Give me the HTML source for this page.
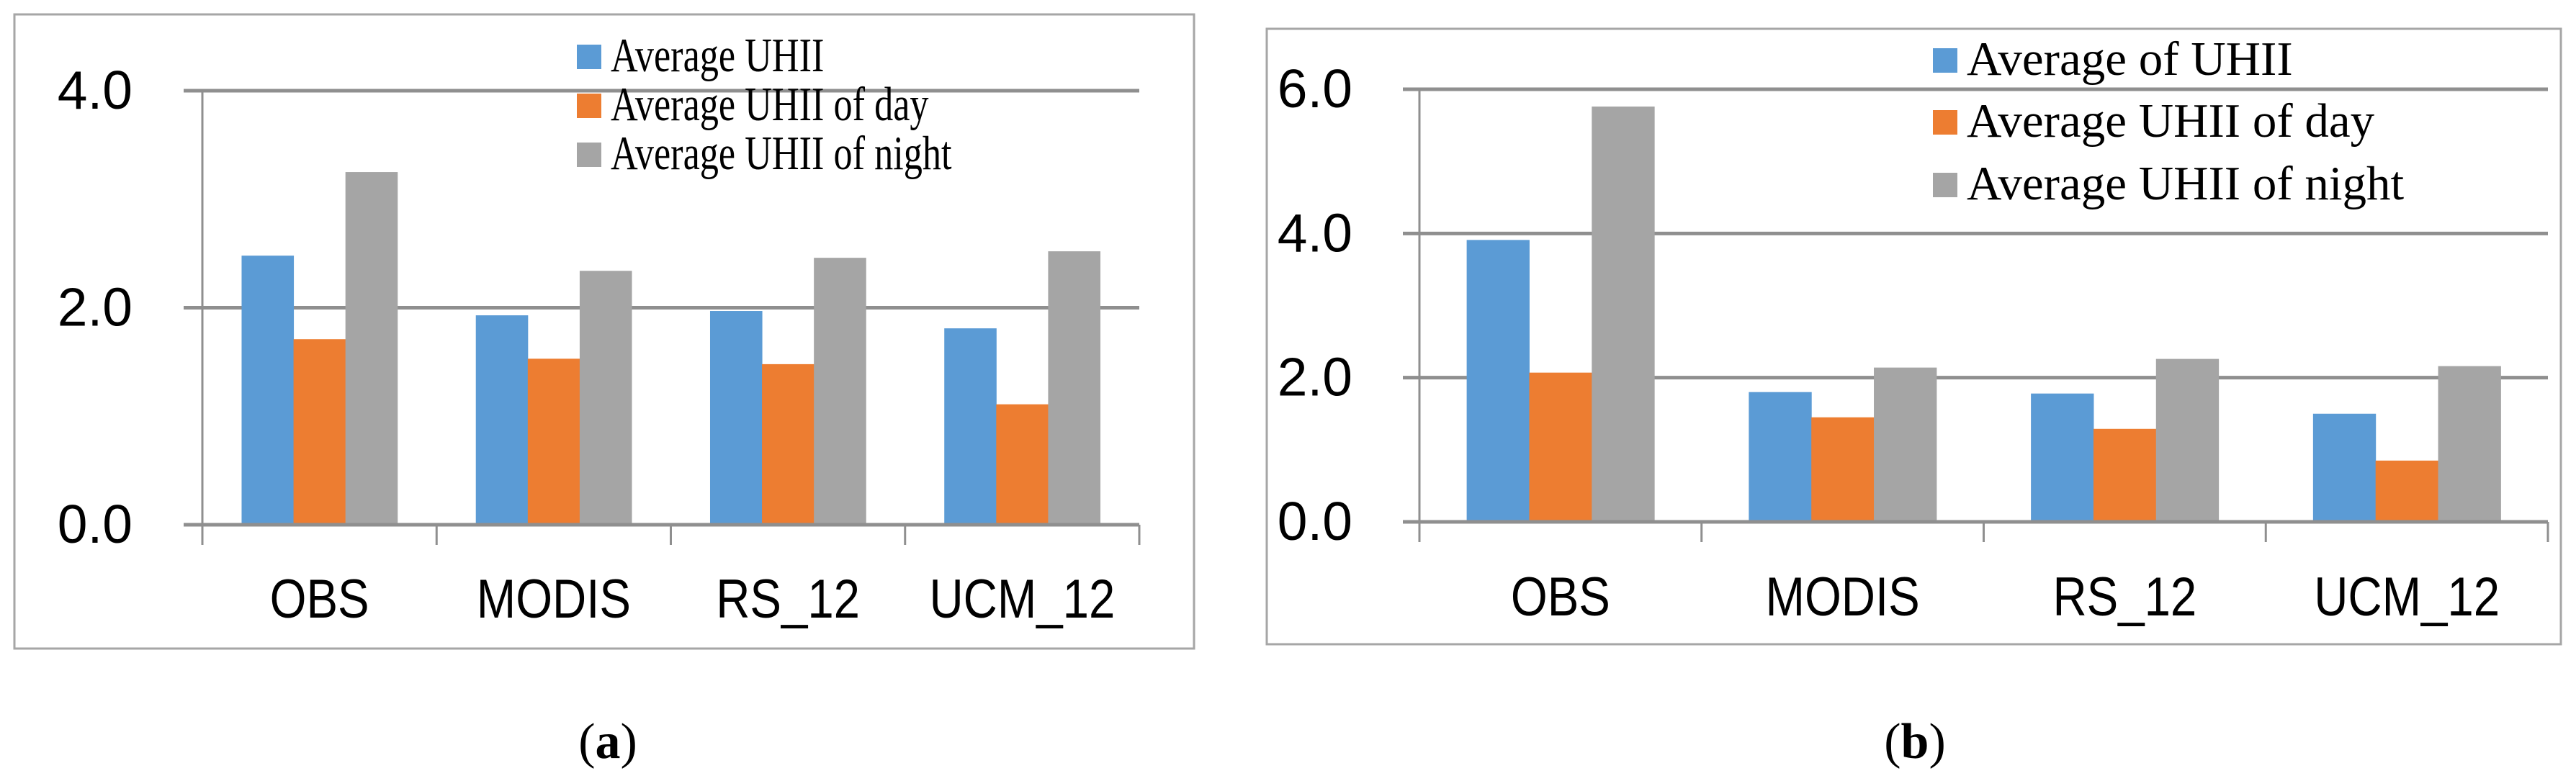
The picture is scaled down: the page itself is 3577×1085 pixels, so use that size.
<!DOCTYPE html>
<html><head><meta charset="utf-8"><style>
html,body{margin:0;padding:0;background:#fff;}
svg{display:block;}
</style></head><body>
<svg id="fig" width="3577" height="1085" viewBox="0 0 3577 1085" xmlns="http://www.w3.org/2000/svg"></svg>
<script>
const categories = ["OBS", "MODIS", "RS_12", "UCM_12"];
const seriesNamesA = ["Average UHII", "Average UHII of day", "Average UHII of night"];
const seriesNamesB = ["Average of UHII", "Average UHII of day", "Average UHII of night"];
const avgA   = [2.48, 1.93, 1.97, 1.81];
const dayA   = [1.71, 1.53, 1.48, 1.11];
const nightA = [3.25, 2.34, 2.46, 2.52];
const avgB   = [3.91, 1.80, 1.78, 1.50];
const dayB   = [2.07, 1.45, 1.29, 0.85];
const nightB = [5.76, 2.14, 2.26, 2.16];
const ticksA = [0, 2, 4];
const ticksB = [0, 2, 4, 6];
const tickLabelsA = ["0.0", "2.0", "4.0"];
const tickLabelsB = ["0.0", "2.0", "4.0", "6.0"];
const colors = ["#5b9bd5", "#ed7d31", "#a5a5a5"];

const NS = "http://www.w3.org/2000/svg";
const svg = document.getElementById("fig");
function mk(tag, attrs, parent, text) {
  const e = document.createElementNS(NS, tag);
  for (const k in attrs) e.setAttribute(k, attrs[k]);
  if (text !== undefined) e.textContent = text;
  (parent || svg).appendChild(e);
  return e;
}

function chart(cfg) {
  const g = mk("g", {});
  
  
  const fr = mk("rect", {x: cfg.frame[0], y: cfg.frame[1], width: cfg.frame[2], height: cfg.frame[3], fill: "#fff", stroke: "#a6a6a6", "stroke-width": 3}, g);
  
  
  const x0 = cfg.x0, x1 = cfg.x1, y0 = cfg.y0, yTop = cfg.yTop, vmax = cfg.vmax;
  const yS = v => y0 - (v / vmax) * (y0 - yTop);
  const catW = (x1 - x0) / categories.length;
  const xS = i => x0 + i * catW;
  cfg.ticks.forEach((t, i) => {
    const y = yS(t);
    const l = mk("line", {x1: cfg.gridStart, x2: x1, y1: y, y2: y, stroke: "#8f8f8f", "stroke-width": 5}, g);
    
    
    const tx = mk("text", {x: cfg.labelRight, y: y + 25, "text-anchor": "end", "font-family": "Liberation Sans, sans-serif", "font-size": 75, fill: "#000"}, g, cfg.tickLabels[i]);
    
    
  });
  const ya = mk("line", {x1: x0, x2: x0, y1: yTop, y2: y0 + 28, stroke: "#8f8f8f", "stroke-width": 3}, g);
  
  
  for (let i = 0; i <= categories.length; i++) {
    const t = mk("line", {x1: xS(i), x2: xS(i), y1: y0, y2: y0 + 28, stroke: "#8f8f8f", "stroke-width": 3}, g);
    
    
  }
  const bw = catW * cfg.barFrac / 3;
  const off = (catW - 3 * bw) / 2;
  cfg.series.forEach((s, si) => {
    s.forEach((v, i) => {
      const x = xS(i) + off + si * bw;
      const r = mk("rect", {x: x, y: yS(v), width: bw + 0.5, height: y0 - yS(v), fill: colors[si]}, g);
      
      
    });
  });
  const xa = mk("line", {x1: cfg.gridStart, x2: x1, y1: y0, y2: y0, stroke: "#8f8f8f", "stroke-width": 5}, g);
  
  
  categories.forEach((c, i) => {
    const cx = xS(i) + catW / 2;
    const t = mk("text", {x: 0, y: 0, transform: "translate(" + cx + "," + cfg.catY + ") scale(0.86,1)", "text-anchor": "middle", "font-family": "Liberation Sans, sans-serif", "font-size": 76, fill: "#000"}, g, c);
    
    
  });
  cfg.legendNames.forEach((n, i) => {
    const cy = cfg.legY[i];
    const sw = mk("rect", {x: cfg.legX, y: cy - 17, width: 34, height: 34, fill: colors[i]}, g);
    
    
    const t = mk("text", {x: 0, y: 0, transform: "translate(" + (cfg.legX + 47) + "," + (cy + 20) + ") scale(" + cfg.legScale + ",1)", "font-family": "Liberation Serif, serif", "font-size": 67, fill: "#000"}, g, n);
    
    
  });
  const cap = mk("text", {x: cfg.capX, y: 1053, "text-anchor": "middle", "font-family": "Liberation Serif, serif", "font-size": 70, fill: "#000"}, g);
  
  
  mk("tspan", {}, cap, "(");
  mk("tspan", {"font-weight": "bold"}, cap, cfg.capLetter);
  mk("tspan", {}, cap, ")");
}

chart({name: "chart-a", frame: [20, 20, 1638, 881], x0: 281, x1: 1582, y0: 729, yTop: 126, vmax: 4,
  gridStart: 255, labelRight: 184, ticks: ticksA, tickLabels: tickLabelsA, barFrac: 0.665,
  series: [avgA, dayA, nightA], catY: 858, legendNames: seriesNamesA, legX: 801, legY: [79, 147, 215], legScale: 0.78,
  capX: 844, capLetter: "a"});
chart({name: "chart-b", frame: [1759, 40, 1797, 855], x0: 1971, x1: 3538, y0: 725, yTop: 124, vmax: 6,
  gridStart: 1948, labelRight: 1878, ticks: ticksB, tickLabels: tickLabelsB, barFrac: 0.665,
  series: [avgB, dayB, nightB], catY: 855, legendNames: seriesNamesB, legX: 2684, legY: [84, 170, 257], legScale: 1.0,
  capX: 2659, capLetter: "b"});
</script>
</body></html>
